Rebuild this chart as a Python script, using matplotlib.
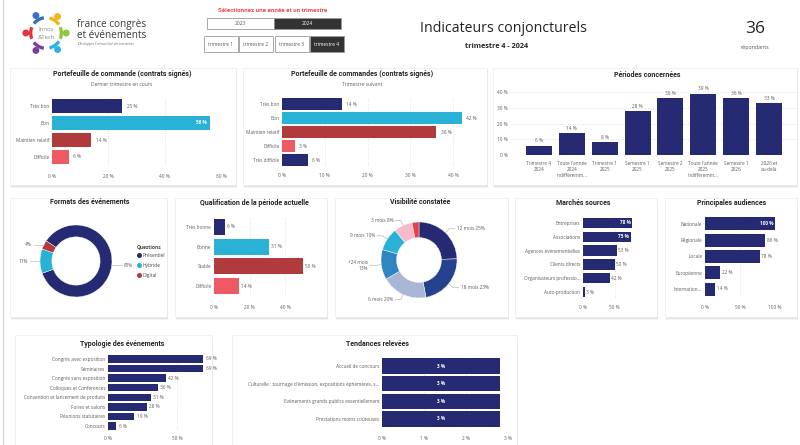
import numpy as np
import matplotlib
matplotlib.use('Agg')
import matplotlib.pyplot as plt
from matplotlib.patches import Rectangle, Circle, Arc

plt.rcParams['font.family'] = ['Open Sans', 'DejaVu Sans']

# ---------------- data ----------------
p1_cats = ['Très bon', 'Bon', 'Maintien relatif', 'Difficile']
p1_vals = [25, 56, 14, 6]
p2_cats = ['Très bon', 'Bon', 'Maintien relatif', 'Difficile', 'Très difficile']
p2_vals = [14, 42, 36, 3, 6]
per_cats = ['Trimestre 4\n2024', "Toute l'année\n2024\nindifféremm...", 'Trimestre 1\n2025',
            'Semestre 1\n2025', 'Semestre 2\n2025', "Toute l'année\n2025\nindifféremm...",
            'Semestre 1\n2026', '2026 et\nau-delà']
per_vals = [6, 14, 8, 28, 36, 39, 36, 33]
fmt_cats = ['Présentiel', 'Hybride', 'Digital']
fmt_vals = [85, 11, 4]
qual_cats = ['Très bonne', 'Bonne', 'Stable', 'Difficile']
qual_vals = [6, 31, 50, 14]
vis_cats = ['12 mois', '18 mois', '6 mois', '+24 mois', '9 mois', '3 mois', '']
vis_vals = [25, 23, 20, 13, 10, 8, 3]
mar_cats = ['Entreprises', 'Associations', 'Agences événementielles', 'Clients directs',
            'Organisateurs professio...', 'Auto-production']
mar_vals = [78, 75, 53, 50, 42, 3]
aud_cats = ['Nationale', 'Régionale', 'Locale', 'Européenne', 'Internation...']
aud_vals = [100, 86, 78, 22, 14]
typ_cats = ['Congrès avec exposition', 'Séminaires', 'Congrès sans exposition',
            'Colloques et Conférences', 'Convention et lancement de produits',
            'Foires et salons', 'Réunions statutaires', 'Concours']
typ_vals = [69, 69, 42, 36, 31, 28, 19, 6]
ten_cats = ['Accueil de concours',
            "Culturelle : tournage d'émission, expositions éphémères, s...",
            'Evénements grands publics essentiellement', 'Prestations moins coûteuses']
ten_vals = [2.8, 2.8, 2.8, 2.8]
years = ['2023', '2024']
quarters = ['trimestre 1', 'trimestre 2', 'trimestre 3', 'trimestre 4']
respondents = 36

NAVY = '#262a72'
CYAN = '#29b2d6'
DRED = '#b03a3c'
LRED = '#ee5a64'
GREY = '#605e5c'
vis_colors = [NAVY, '#25428f', '#a9b6d6', '#2d86c0', '#29b2d6', '#f7bacb', '#e8404a']

W, H = 800, 445
fig = plt.figure(figsize=(8, 4.45), dpi=100)
fig.patch.set_facecolor('white')


def rect(x0, y0, x1, y1):
    return [x0 / W, 1 - y1 / H, (x1 - x0) / W, (y1 - y0) / H]


def ftext(x, y, s, **kw):
    kw.setdefault('ha', 'center')
    kw.setdefault('va', 'center')
    return fig.text(x / W, 1 - y / H, s, **kw)


# background layer in pixel coordinates
bg = fig.add_axes([0, 0, 1, 1])
bg.set_xlim(0, W)
bg.set_ylim(H, 0)
bg.axis('off')
bg.plot([3, 3], [0, H], color='#d8d8d8', lw=1)


def card(x0, y0, x1, y1):
    for k, a in [(3, 0.10), (2, 0.18), (1, 0.25)]:
        bg.add_patch(Rectangle((x0 + 0.5, y0 + k), x1 - x0, y1 - y0, color='#9a9a9a', alpha=a, lw=0))
    bg.add_patch(Rectangle((x0, y0), x1 - x0, y1 - y0, facecolor='white', edgecolor='#ececec', lw=0.5))


for c in [(10, 68, 236, 185), (243, 68, 487, 185), (493, 68, 797, 185),
          (10, 198, 167, 317), (175, 198, 327, 317), (335, 198, 508, 317),
          (515, 198, 657, 317), (665, 198, 797, 317),
          (15, 335, 212, 446), (232, 335, 517, 446)]:
    card(*c)

TFONT = dict(family=['Roboto', 'DejaVu Sans'], fontweight='bold', fontsize=5.0, color='#252423')
LFS = 3.4


def hbar(x0, x1, yc0, yc1, cats, vals, colors, xmax, ticks, tick_y, inside=(), center_lab=False,
         height=0.8):
    n = len(cats)
    sp = (yc1 - yc0) / (n - 1)
    yb = yc1 + sp / 2
    ax = fig.add_axes(rect(x0, yc0 - sp / 2, x1, yb))
    ax.set_facecolor('none')
    y = np.arange(n)
    ax.barh(y, vals, height=height, color=colors, zorder=2)
    ax.set_ylim(n - 0.5, -0.5)
    ax.set_xlim(0, xmax)
    ax.set_yticks(y, cats, fontsize=LFS, color=GREY)
    ax.set_xticks(ticks, [f'{t} %' for t in ticks], fontsize=LFS, color=GREY)
    fs_px = LFS * 100 / 72
    pad = max(0.5, (tick_y - yb - fs_px / 2) * 0.72)
    ax.tick_params(axis='x', length=0, pad=pad)
    ax.tick_params(axis='y', length=0, pad=2)
    for s in ax.spines.values():
        s.set_visible(False)
    ax.grid(axis='x', color='#d9d9d9', linestyle=(0, (1, 2)), lw=0.6, zorder=0)
    for i, v in enumerate(vals):
        lab = f'{round(v)} %'
        if center_lab:
            ax.text(v / 2, i, lab, ha='center', va='center', color='white', fontsize=LFS,
                    fontweight='bold')
        elif i in inside:
            ax.text(v - xmax * 0.02, i, lab, ha='right', va='center', color='white',
                    fontsize=LFS, fontweight='bold')
        else:
            ax.text(v + xmax * 0.025, i, lab, ha='left', va='center', color=GREY, fontsize=LFS)
    return ax


# ---------------- header ----------------
logo = fig.add_axes(rect(20, 8, 72, 58))
logo.set_xlim(-1.6, 1.6)
logo.set_ylim(-1.55, 1.55)
logo.set_aspect('equal')
logo.axis('off')
for ang, col in [(120, '#3a6fc4'), (55, '#f2b51c'), (0, '#8cc63f'), (-55, '#2ab3e0'),
                 (-120, '#7b3fa0'), (180, '#e2333e')]:
    a = np.deg2rad(ang)
    logo.add_patch(Circle((1.25 * np.cos(a), 1.25 * np.sin(a)), 0.17, color=col))
    logo.add_patch(Arc((0, 0), 1.9, 1.9, theta1=ang - 22, theta2=ang + 22, color=col, lw=2.4))
logo.text(0, 0.22, 'Innov', ha='center', va='center', fontsize=4.2, color='#8a8a8a')
logo.text(0, -0.3, '&Tech', ha='center', va='center', fontsize=4.2, color='#8a8a8a')
ftext(77, 25, 'france congrès', ha='left', fontsize=7.2, color='#3a3a3a')
ftext(77, 35, 'et événements', ha='left', fontsize=7.2, color='#3a3a3a')
ftext(77, 44, "Développer l'attractivité des territoires", ha='left', fontsize=2.6,
      color='#666', style='italic', family=['Liberation Serif', 'DejaVu Serif'])

ftext(273, 11, 'Sélectionnez une année et un trimestre', fontsize=4.4, fontweight='bold',
      color='#f0474f', family=['Roboto', 'DejaVu Sans'])
ybox = (18, 29)
for i, yr in enumerate(years):
    x0 = 207 + i * 67
    sel = yr == '2024'
    bg.add_patch(Rectangle((x0, ybox[0]), 67, ybox[1] - ybox[0],
                           facecolor='#333333' if sel else 'white', edgecolor='#9a9a9a', lw=0.6))
    ftext(x0 + 33.5, (ybox[0] + ybox[1]) / 2, yr, fontsize=3.5,
          color='white' if sel else '#555')
for i, q in enumerate(quarters):
    x0 = 203.5 + i * 35.5
    sel = q == 'trimestre 4'
    bg.add_patch(Rectangle((x0, 36), 34, 16, facecolor='#333333' if sel else 'white',
                           edgecolor='#9a9a9a', lw=0.6))
    ftext(x0 + 17, 44, q, fontsize=3.5, color='white' if sel else '#555')

ftext(503, 28, 'Indicateurs conjoncturels', fontsize=10.2, color='#252423')
ftext(497, 47, 'trimestre 4 - 2024', fontsize=5.2, color='#252423', fontweight='bold')
ftext(755, 29, str(respondents), fontsize=12.5, color='#252423')
ftext(755, 47, 'répondants', fontsize=3.8, color='#555')

# ---------------- row 1 ----------------
ftext(122, 74.5, 'Portefeuille de commande (contrats signés)', **TFONT)
ftext(122, 84, 'Dernier trimestre en cours', fontsize=3.6, color=GREY)
hbar(52, 221, 106, 157, p1_cats, p1_vals, [NAVY, CYAN, DRED, LRED], 60, [0, 20, 40, 60], 176,
     inside=(1,), height=0.82)

ftext(362, 74.5, 'Portefeuille de commandes (contrats signés)', **TFONT)
ftext(362, 84, 'Trimestre suivant', fontsize=3.6, color=GREY)
hbar(282, 465, 104, 160, p2_cats, p2_vals, [NAVY, CYAN, DRED, LRED, NAVY], 42.8,
     [0, 10, 20, 30, 40], 175, height=0.8)

ftext(647, 75, 'Périodes concernées', **TFONT)
ax3 = fig.add_axes(rect(510, 92, 797, 155))
ax3.set_facecolor('none')
x = np.arange(len(per_vals))
ax3.bar(x, per_vals, width=0.79, color=NAVY, zorder=2)
ax3.set_xlim(-0.88, 7.85)
ax3.set_ylim(0, 40)
ax3.set_yticks([0, 10, 20, 30, 40], [f'{t} %' for t in [0, 10, 20, 30, 40]], fontsize=LFS,
               color=GREY)
ax3.set_xticks(x, per_cats, fontsize=LFS, color=GREY, linespacing=1.25)
ax3.tick_params(length=0)
ax3.tick_params(axis='x', pad=4.0)
ax3.tick_params(axis='y', pad=1.5)
for s in ax3.spines.values():
    s.set_visible(False)
ax3.grid(axis='y', color='#d9d9d9', linestyle=(0, (1, 2)), lw=0.6, zorder=0)
for i, v in enumerate(per_vals):
    ax3.annotate(f'{v} %', (i, v), xytext=(0, 1.5), textcoords='offset points', ha='center',
                 va='bottom', fontsize=LFS, color=GREY)

# ---------------- row 2 ----------------
ftext(90, 202.5, 'Formats des événements', **TFONT)
axf = fig.add_axes(rect(40, 225, 112, 297))
axf.pie(fmt_vals, colors=[NAVY, CYAN, DRED], startangle=146, counterclock=False, radius=1,
        wedgeprops=dict(width=0.33, edgecolor='white', linewidth=0.3))
axf.set_xlim(-1, 1)
axf.set_ylim(-1, 1)
axf.set_aspect('equal')
tot = sum(fmt_vals)
acc = 0
for v in fmt_vals:
    mid = np.deg2rad(146 - 360 * (acc + v / 2) / tot)
    acc += v
    xe, ye = np.cos(mid), np.sin(mid)
    sgn = 1 if xe > 0 else -1
    axf.plot([xe, xe + sgn * 0.28], [ye, ye], color='#aaa', lw=0.4, clip_on=False)
    axf.text(xe + sgn * 0.34, ye, f'{v}%', ha='left' if sgn > 0 else 'right', va='center',
             fontsize=LFS, color=GREY)
ftext(137, 247, 'Questions', ha='left', fontsize=3.5, fontweight='bold', color='#444')
for i, (c, col) in enumerate(zip(fmt_cats, [NAVY, CYAN, DRED])):
    bg.add_patch(Circle((139.5, 255.5 + i * 10), 1.8, color=col))
    ftext(142.5, 255.5 + i * 10, c, ha='left', fontsize=3.5, color='#444')

ftext(254, 203, 'Qualification de la période actuelle', **TFONT)
hbar(214, 306, 227, 286, qual_cats, qual_vals, [NAVY, CYAN, DRED, LRED], 51.8, [0, 20, 40], 307,
     height=0.81)

ftext(420, 202.5, 'Visibilité constatée', **TFONT)
axv = fig.add_axes(rect(381, 222, 457, 298))
axv.pie(vis_vals, colors=vis_colors, startangle=90, counterclock=False, radius=1,
        wedgeprops=dict(width=0.41, edgecolor='white', linewidth=0.3))
axv.set_xlim(-1, 1)
axv.set_ylim(-1, 1)
axv.set_aspect('equal')
tot = sum(vis_vals)
acc = 0
for c, v in zip(vis_cats, vis_vals):
    mid = np.deg2rad(90 - 360 * (acc + v / 2) / tot)
    acc += v
    if not c:
        continue
    xe, ye = np.cos(mid), np.sin(mid)
    sgn = 1 if xe > 0 else -1
    x2, y2 = 1.15 * xe, 1.15 * ye
    axv.plot([1.0 * xe, x2, x2 + sgn * 0.15], [1.0 * ye, y2, y2], color='#aaa', lw=0.4,
             clip_on=False)
    lab = f'{c}\n{v}%' if c.startswith('+') else f'{c} {v}%'
    axv.text(x2 + sgn * 0.2, y2, lab, ha='left' if sgn > 0 else 'right', va='center',
             fontsize=LFS, color=GREY, linespacing=1.3)

ftext(583, 203, 'Marchés sources', **TFONT)
hbar(583, 640, 223, 292, mar_cats, mar_vals, NAVY, 90, [0, 50], 307, inside=(0, 1), height=0.74)

ftext(732, 203, 'Principales audiences', **TFONT)
hbar(705, 775, 224, 289, aud_cats, aud_vals, NAVY, 100, [0, 50, 100], 307, inside=(0,),
     height=0.8)

# ---------------- row 3 ----------------
ftext(122, 344, 'Typologie des événements', **TFONT)
hbar(108, 205, 359, 426, typ_cats, typ_vals, NAVY, 70.3, [0, 50], 438, height=0.77)

ftext(377, 344, 'Tendances relevées', **TFONT)
hbar(382, 508, 366, 419, ten_cats, ten_vals, NAVY, 3, [0, 1, 2, 3], 438, center_lab=True,
     height=0.85)

fig.savefig('out.png', dpi=100, facecolor='white')
